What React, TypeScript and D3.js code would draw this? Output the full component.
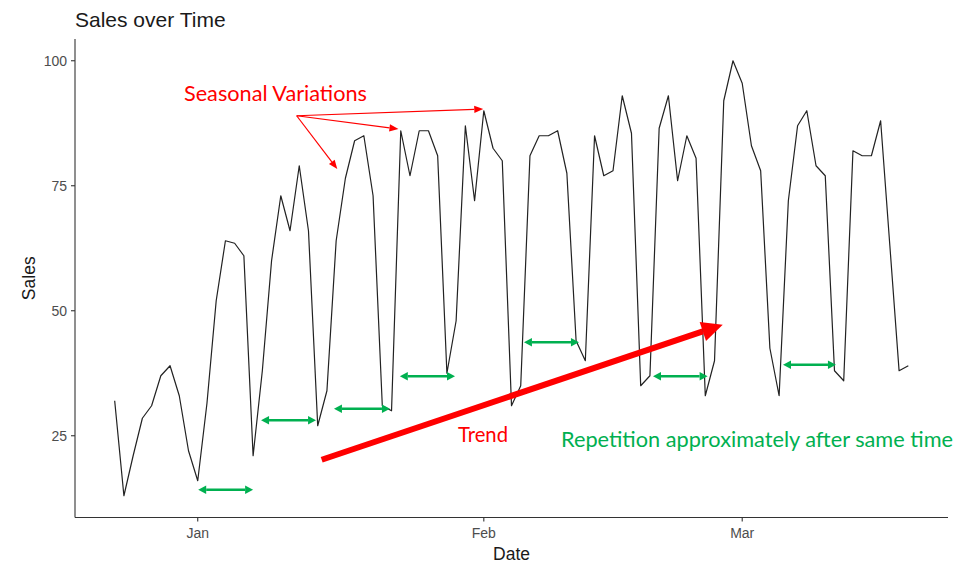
import React from "react";
import * as d3 from "d3";

// ---- data ----
const START = Date.UTC(2022, 11, 23);
const DAY = 864e5;
const sales: number[] = [
  32, 13, 21, 28.5, 31, 37, 39, 33, 22, 16,
  31.5, 52, 64, 63.5, 61, 21, 38, 60, 73, 66,
  79, 66, 27, 34, 64, 76.5, 84, 85, 73, 31,
  30, 86, 77, 86, 86, 81, 37.5, 48, 87, 72,
  90, 82.5, 80, 31, 35, 81, 85, 85, 86, 77.5,
  44, 40, 85, 77, 78, 93, 85.5, 35, 37, 86.5,
  93, 76, 85, 80.5, 33, 40, 92, 100, 95.5, 83,
  78, 42.5, 33, 72, 87, 90, 79, 77, 38, 36,
  82, 81, 81, 88, 63, 38, 39,
];
const yTicks = [25, 50, 75, 100];
const title = "Sales over Time";
const xTitle = "Date";
const yTitle = "Sales";

// annotations in data space (day index, value)
const seasonalLabel = { text: "Seasonal Variations", d0: 8.51, d1: 28.34, v: 91.9 };
const seasonalOrigin = { d: 20.72, v: 89 };
const seasonalTargets = [
  { d: 25.12, v: 78.34 },
  { d: 31.75, v: 86.34 },
  { d: 40.94, v: 90.34 },
];
const trendArrow = { d0: 23.43, v0: 20.2, d1: 66.89, v1: 47.2 };
const trendLabel = { text: "Trend", d0: 38.2, d1: 43.62, v: 23.66 };
const repLabel = { text: "Repetition approximately after same time", d0: 49.37, d1: 91.84, v: 22.8 };
const repArrows = [
  { d0: 10.05, d1: 16.0, v: 14.2 },
  { d0: 16.86, d1: 22.82, v: 28.1 },
  { d0: 24.76, d1: 30.83, v: 30.4 },
  { d0: 31.9, d1: 37.88, v: 36.9 },
  { d0: 45.35, d1: 51.31, v: 43.7 },
  { d0: 59.33, d1: 65.25, v: 36.9 },
  { d0: 73.42, d1: 79.16, v: 39.2 },
];

const W = 975, H = 569;
const RED = "#ff0000", GREEN = "#00b050";

const dayDate = (d: number) => new Date(START + (d - 1) * DAY);

function head(x0: number, y0: number, x1: number, y1: number, len: number, hw: number) {
  const dx = x1 - x0, dy = y1 - y0;
  const L = Math.hypot(dx, dy);
  const ux = dx / L, uy = dy / L;
  const bx = x1 - ux * len, by = y1 - uy * len;
  const pts = [
    [x1, y1],
    [bx - uy * hw, by + ux * hw],
    [bx + uy * hw, by - ux * hw],
  ];
  return { pts: pts.map((p) => p.join(",")).join(" "), bx, by };
}

export default function App() {
  const data = sales.map((v, i) => ({ date: dayDate(i + 1), v }));
  const dExt = d3.extent(data, (p) => p.date.getTime()) as [number, number];
  const dPad = (dExt[1] - dExt[0]) * 0.05;
  const x = d3.scaleUtc().domain([new Date(dExt[0] - dPad), new Date(dExt[1] + dPad)]).range([75, 948]);
  const vExt = d3.extent(sales) as [number, number];
  const vPad = (vExt[1] - vExt[0]) * 0.05;
  const y = d3.scaleLinear().domain([vExt[0] - vPad, vExt[1] + vPad]).range([517.5, 39]);

  const X = (d: number) => x(dayDate(d));
  const line = d3.line<{ date: Date; v: number }>().x((p) => x(p.date)).y((p) => y(p.v));
  const xTicks = x.ticks(d3.utcMonth.every(1)!);
  const fmt = d3.utcFormat("%b");

  const [x0, x1] = x.range();
  const [yb, yt] = y.range();
  const axisColor = "#333";
  const tickText = "#4d4d4d";
  const annFont = "Lato, 'Open Sans', sans-serif";

  const sox = X(seasonalOrigin.d), soy = y(seasonalOrigin.v);
  const tx0 = X(trendArrow.d0), ty0 = y(trendArrow.v0), tx1 = X(trendArrow.d1), ty1 = y(trendArrow.v1);
  const th = head(tx0, ty0, tx1, ty1, 21, 10);

  return (
    <svg width={W} height={H} style={{ position: "absolute", left: 0, top: 0, background: "#fff" }}
      fontFamily="'Liberation Sans', Arial, sans-serif">
      <rect width={W} height={H} fill="#fff" />
      <text x={75} y={26.5} fontSize={21} fill="#1a1a1a">{title}</text>

      {/* axes */}
      <line x1={x0} x2={x0} y1={yt} y2={yb} stroke={axisColor} strokeWidth={1.1} />
      <line x1={x0} x2={x1} y1={yb} y2={yb} stroke={axisColor} strokeWidth={1.1} />
      {yTicks.map((t) => (
        <g key={t}>
          <line x1={x0 - 4} x2={x0} y1={y(t)} y2={y(t)} stroke={axisColor} strokeWidth={1.1} />
          <text x={x0 - 8} y={y(t)} dy="0.36em" textAnchor="end" fontSize={14} fill={tickText}>{t}</text>
        </g>
      ))}
      {xTicks.map((t) => (
        <g key={t.getTime()}>
          <line x1={x(t)} x2={x(t)} y1={yb} y2={yb + 4} stroke={axisColor} strokeWidth={1.1} />
          <text x={x(t)} y={538} textAnchor="middle" fontSize={14} fill={tickText}>{fmt(t)}</text>
        </g>
      ))}
      <text x={(x0 + x1) / 2} y={560} textAnchor="middle" fontSize={17.5} fill="#1a1a1a">{xTitle}</text>
      <text transform={`translate(35,${(yt + yb) / 2}) rotate(-90)`} textAnchor="middle" fontSize={17.5} fill="#1a1a1a">{yTitle}</text>

      {/* series */}
      <path d={line(data) || ""} fill="none" stroke="#222" strokeWidth={1.2} strokeLinejoin="round" />

      {/* seasonal annotation */}
      <text x={X(seasonalLabel.d0)} y={y(seasonalLabel.v)} fontSize={21} fill={RED} fontFamily={annFont}
        textLength={X(seasonalLabel.d1) - X(seasonalLabel.d0)} lengthAdjust="spacingAndGlyphs">{seasonalLabel.text}</text>
      {seasonalTargets.map((t, i) => {
        const ex = X(t.d), ey = y(t.v);
        const h = head(sox, soy, ex, ey, 9, 3.6);
        return (
          <g key={i}>
            <line x1={sox} y1={soy} x2={h.bx} y2={h.by} stroke={RED} strokeWidth={1.2} />
            <polygon points={h.pts} fill={RED} />
          </g>
        );
      })}

      {/* trend */}
      <line x1={tx0} y1={ty0} x2={th.bx} y2={th.by} stroke={RED} strokeWidth={6} />
      <polygon points={th.pts} fill={RED} />
      <text x={X(trendLabel.d0)} y={y(trendLabel.v)} fontSize={21} fill={RED} fontFamily={annFont}
        textLength={X(trendLabel.d1) - X(trendLabel.d0)} lengthAdjust="spacingAndGlyphs">{trendLabel.text}</text>

      {/* repetition */}
      {repArrows.map((a, i) => {
        const ax0 = X(a.d0), ax1 = X(a.d1), ay = y(a.v);
        const hR = head(ax0, ay, ax1, ay, 8, 4.2);
        const hL = head(ax1, ay, ax0, ay, 8, 4.2);
        return (
          <g key={i}>
            <line x1={hL.bx} x2={hR.bx} y1={ay} y2={ay} stroke={GREEN} strokeWidth={2.6} />
            <polygon points={hR.pts} fill={GREEN} />
            <polygon points={hL.pts} fill={GREEN} />
          </g>
        );
      })}
      <text x={X(repLabel.d0)} y={y(repLabel.v)} fontSize={21} fill={GREEN} fontFamily={annFont}
        textLength={X(repLabel.d1) - X(repLabel.d0)} lengthAdjust="spacingAndGlyphs">{repLabel.text}</text>
    </svg>
  );
}
